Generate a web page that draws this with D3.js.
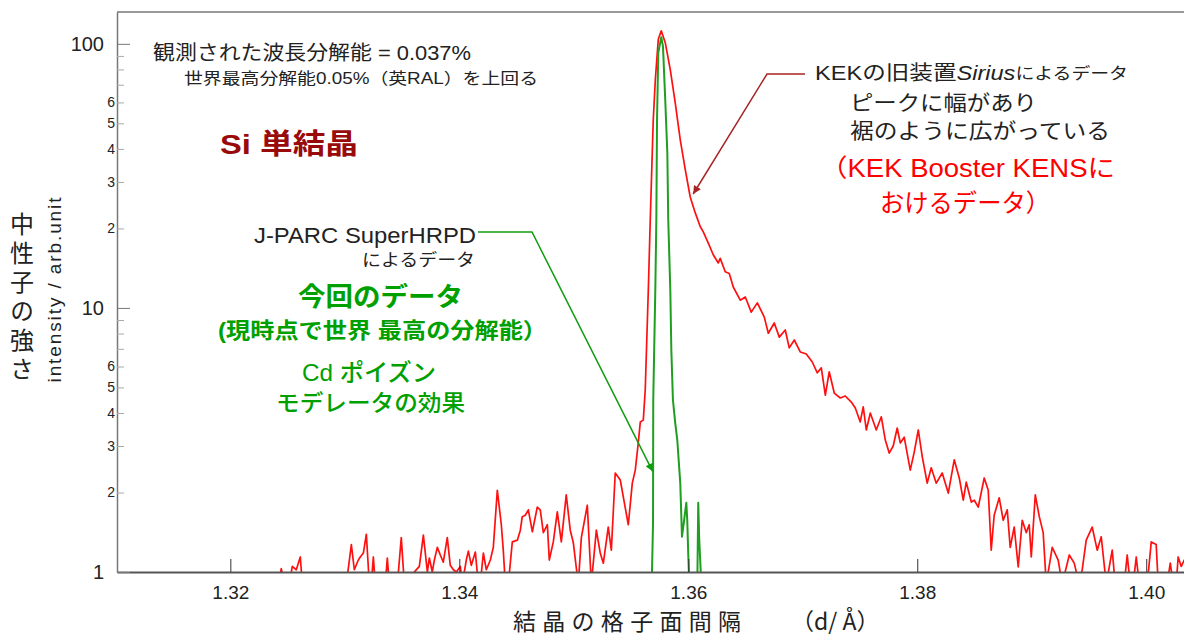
<!DOCTYPE html>
<html>
<head>
<meta charset="utf-8">
<script src="https://cdn.jsdelivr.net/npm/d3@7"></script>
<style>
  body { margin: 0; background: #fff; }
  text { font-family: "Liberation Sans", "Noto Sans CJK JP", sans-serif; }
  .jp { font-family: "Noto Sans CJK JP", "Liberation Sans", sans-serif; }
  .axis text { fill: #222; }
</style>
</head>
<body>
<script>
// KEK (Sirius) data: d-spacing / intensity. values < 1 fall under the axis
var redD = [1.32419, 1.32445, 1.32472, 1.32515, 1.32541, 1.32576, 1.32611, 1.32629,
  1.33013, 1.33057, 1.33083, 1.33118, 1.33135, 1.33162, 1.33188, 1.33214, 1.33231, 1.33249, 1.33266,
  1.33354, 1.33371, 1.33389, 1.33459, 1.33493, 1.33520, 1.33616, 1.33651, 1.33686, 1.33721, 1.33738,
  1.33764, 1.33782, 1.33808, 1.33834, 1.33860, 1.33895, 1.33921, 1.33948, 1.33974, 1.34009, 1.34026,
  1.34061, 1.34079, 1.34105, 1.34140, 1.34166, 1.34183, 1.34210, 1.34236, 1.34271, 1.34297, 1.34332,
  1.34367, 1.34384, 1.34402, 1.34428, 1.34463, 1.34507, 1.34533, 1.34550, 1.34576, 1.34603, 1.34638,
  1.34681, 1.34707, 1.34734, 1.34769, 1.34786, 1.34821, 1.34856, 1.34891, 1.34934, 1.34969, 1.34996,
  1.35039, 1.35066, 1.35118, 1.35153, 1.35197, 1.35231, 1.35258, 1.35301, 1.35328, 1.35362, 1.35406,
  1.35476, 1.35511, 1.35537, 1.35563, 1.35581, 1.35607, 1.35624, 1.35642, 1.35651, 1.35668, 1.35694,
  1.35712, 1.35738, 1.35764, 1.35799, 1.35843, 1.35886, 1.35930, 1.35974, 1.36017, 1.36061, 1.36105,
  1.36131, 1.36175, 1.36218, 1.36262, 1.36279, 1.36323, 1.36358, 1.36393, 1.36454, 1.36498, 1.36550,
  1.36603, 1.36664, 1.36699, 1.36751, 1.36795, 1.36847, 1.36882, 1.36926, 1.36978, 1.37031, 1.37083,
  1.37127, 1.37162, 1.37197, 1.37231, 1.37275, 1.37328, 1.37371, 1.37424, 1.37459, 1.37502, 1.37528,
  1.37555, 1.37590, 1.37642, 1.37686, 1.37721, 1.37755, 1.37790, 1.37825, 1.37852, 1.37886, 1.37939,
  1.37974, 1.38009, 1.38044, 1.38087, 1.38122, 1.38166, 1.38218, 1.38271, 1.38323, 1.38367, 1.38402,
  1.38428, 1.38472, 1.38498, 1.38533, 1.38585, 1.38620, 1.38646, 1.38672, 1.38716, 1.38751, 1.38786,
  1.38812, 1.38847, 1.38882, 1.38917, 1.38952, 1.38978, 1.38996, 1.39031, 1.39066, 1.39100, 1.39127,
  1.39179, 1.39231, 1.39266, 1.39328, 1.39371, 1.39415, 1.39441, 1.39476, 1.39528, 1.39572, 1.39607,
  1.39651, 1.39703, 1.39729, 1.39808, 1.39834, 1.39860, 1.39886, 1.39913, 1.39939, 1.40009, 1.40044,
  1.40087, 1.40105, 1.40183, 1.40210, 1.40236, 1.40262, 1.40279, 1.40306, 1.40332, 1.40370];
var redI = [0.9, 1.03, 0.9, 0.9, 1.05, 1.02, 1.14, 0.9,
  0.9, 1.27, 1.02, 1.11, 1.14, 1.18, 1.39, 0.9, 0.9, 1.14, 0.9,
  0.9, 1.13, 0.9, 0.9, 1.35, 0.9, 1.01, 1.05, 1.38, 1.00, 1.13,
  1.00, 1.11, 1.24, 1.16, 1.09, 1.35, 1.06, 1.02, 1.00, 1.05, 0.9,
  1.11, 1.20, 1.06, 1.19, 0.9, 0.9, 1.18, 1.02, 1.11, 1.24, 2.04,
  1.51, 1.21, 0.9, 0.9, 1.30, 1.32, 1.44, 1.62, 1.64, 1.72, 1.42,
  1.76, 1.72, 1.41, 1.51, 1.11, 1.30, 1.69, 1.30, 1.96, 1.44, 1.29,
  0.9, 1.35, 1.79, 0.9, 1.44, 1.18, 1.08, 1.48, 1.21, 2.37, 2.23,
  1.51, 2.17, 2.43, 3.08, 3.70, 3.76, 4.89, 8.77, 11.7, 21.6, 51.5,
  73.0, 104, 112, 101, 79.7, 59.8, 43.3, 33.3, 26.3, 22.9, 20.3,
  19.4, 17.6, 15.9, 14.8, 15.4, 13.7, 13.5, 12.0, 10.7, 11.0, 9.64,
  10.45, 9.23, 8.02, 8.77, 7.75, 8.25, 7.06, 7.56, 6.81, 6.69, 6.24,
  5.68, 5.93, 4.67, 5.73, 4.76, 4.56, 4.64, 4.40, 4.18, 3.70, 4.22,
  3.45, 4.00, 3.45, 3.87, 3.16, 2.82, 3.00, 3.51, 3.08, 3.24, 2.43,
  2.85, 3.45, 2.73, 2.17, 2.48, 2.17, 2.37, 1.99, 2.66, 2.27, 1.87,
  2.19, 1.84, 1.87, 1.76, 2.27, 2.04, 1.21, 1.64, 1.91, 1.57, 1.72,
  1.24, 1.48, 1.045, 1.57, 1.41, 1.51, 1.14, 1.96, 1.62, 1.41, 0.9,
  1.24, 1.11, 0.9, 1.16, 1.08, 0.9, 1.02, 1.32, 1.48, 1.21, 1.36,
  0.9, 1.21, 0.9, 0.9, 1.16, 0.9, 0.9, 1.14, 0.9, 0.9, 1.30,
  1.27, 0.9, 0.9, 1.08, 0.9, 0.9, 1.14, 1.05, 1.11, 1.06];

// J-PARC SuperHRPD data
var greenD = [1.35660, 1.35683, 1.35692, 1.35694, 1.35712, 1.35721, 1.35727, 1.35738, 1.35764,
  1.35779, 1.35799, 1.35817, 1.35825, 1.35843, 1.35852, 1.35866, 1.35886, 1.35904, 1.35930,
  1.35945, 1.35956, 1.35983, 1.35991, 1.36000, 1.36009, 1.36079, 1.36087, 1.36096, 1.36114];
var greenI = [0.9, 1.00, 1.53, 4.48, 11.7, 21.6, 51.5, 92.4, 106,
  97.8, 61.0, 38.6, 21.6, 11.7, 6.93, 4.48, 3.67, 3.16, 2.17,
  1.36, 1.48, 1.83, 1.57, 1.16, 0.9, 0.9, 1.83, 1.32, 0.9];

var xTicks = [1.32, 1.34, 1.36, 1.38, 1.40];
var yTicks = [1, 2, 3, 4, 5, 6, 7, 8, 9, 10, 20, 30, 40, 50, 60, 70, 80, 90, 100];
var yTickLabels = ["1", "2", "3", "4", "5", "6", "", "", "", "10", "2", "3", "4", "5", "6", "", "", "", "100"];
var yMajor = [1, 10, 100];

var margin = {top: 12, right: 0, bottom: 67, left: 117},
    width = 1184 - margin.left - margin.right,
    height = 639 - margin.top - margin.bottom;

var x = d3.scaleLinear().domain([1.3101, 1.4033]).range([0, width]);
var y = d3.scaleLog().domain([1, 132]).range([height, 0]);

var line = d3.line()
    .x(function(d) { return x(d[0]); })
    .y(function(d) { return y(d[1]); });

var svgRoot = d3.select("body").append("svg")
    .attr("width", 1184)
    .attr("height", 639);

var defs = svgRoot.append("defs");
defs.append("clipPath").attr("id", "plotclip")
  .append("rect").attr("x", 0).attr("y", 0).attr("width", width).attr("height", height);

function addArrow(id, color) {
    defs.append("marker")
        .attr("id", id)
        .attr("viewBox", "0 0 10 10")
        .attr("refX", 10).attr("refY", 5)
        .attr("markerWidth", 10).attr("markerHeight", 8)
        .attr("markerUnits", "userSpaceOnUse")
        .attr("orient", "auto")
      .append("path")
        .attr("d", "M0,0 L10,5 L0,10 z")
        .style("fill", color);
}

var svg = svgRoot.append("g")
    .attr("transform", "translate(" + margin.left + "," + margin.top + ")");

// frame top line
svg.append("line")
    .attr("x1", 0).attr("x2", width + 5)
    .attr("y1", 0).attr("y2", 0)
    .style("stroke", "#777").style("stroke-width", 1.3);

// curves
var curves = svg.append("g").attr("clip-path", "url(#plotclip)");

curves.append("path")
    .datum(d3.zip(redD, redI))
    .attr("d", line)
    .style("fill", "none")
    .style("stroke", "#ff1010")
    .style("stroke-width", 1.7)
    .style("stroke-linejoin", "round");

curves.append("path")
    .datum(d3.zip(greenD, greenI))
    .attr("d", line)
    .style("fill", "none")
    .style("stroke", "#1f9e1f")
    .style("stroke-width", 2)
    .style("stroke-linejoin", "round");

// X axis
var gx = svg.append("g")
    .attr("class", "axis")
    .attr("transform", "translate(0," + height + ")")
    .call(d3.axisBottom(x).tickValues(xTicks).tickSize(-13).tickSizeOuter(0)
        .tickPadding(14).tickFormat(d3.format(".2f")));
gx.select(".domain").style("stroke", "#555").style("stroke-width", 1.8);
gx.selectAll(".tick line").style("stroke", "#333").style("stroke-width", 1);
gx.selectAll(".tick text").style("font-size", "19px");

// Y axis
var gy = svg.append("g")
    .attr("class", "axis")
    .call(d3.axisLeft(y).tickValues(yTicks).tickSize(-12).tickSizeOuter(0)
        .tickFormat(function(d, i) { return yTickLabels[i]; }));
gy.select(".domain").style("stroke", "#777").style("stroke-width", 1.5);
gy.selectAll(".tick").each(function(d) {
    var major = yMajor.indexOf(d) >= 0;
    var t = d3.select(this);
    t.select("line")
        .attr("x2", major ? 13 : 7)
        .style("stroke", major ? "#777" : "#aaa");
    t.select("text")
        .attr("x", major ? -13 : -2)
        .style("font-size", major ? "20px" : "14px");
});

// axis titles
svgRoot.append("text")
    .attr("class", "jp")
    .attr("x", 513).attr("y", 620)
    .attr("dominant-baseline", "central")
    .attr("textLength", 228)
    .style("font-size", "23px").style("fill", "#222")
    .text("結晶の格子面間隔");
svgRoot.append("text")
    .attr("class", "jp")
    .attr("x", 791).attr("y", 620)
    .attr("dominant-baseline", "central")
    .style("font-size", "23px").style("fill", "#222")
    .text("（d/ Å）");

// vertical (upright) Japanese title
svgRoot.append("text")
    .attr("class", "jp")
    .attr("x", 22).attr("y", 212)
    .style("writing-mode", "vertical-rl")
    .style("text-orientation", "upright")
    .style("letter-spacing", "5px")
    .style("font-size", "24px").style("fill", "#222")
    .text("中性子の強さ");
svgRoot.append("text")
    .attr("transform", "translate(54,290) rotate(-90)")
    .attr("text-anchor", "middle")
    .attr("dominant-baseline", "central")
    .attr("textLength", 185)
    .style("font-size", "19px").style("fill", "#222")
    .text("intensity / arb.unit");

// annotations
var green = "#00a000";
var notes = [
    {t: "観測された波長分解能 = 0.037%", x: 153, y: 53, s: 20, w: 318, c: "#222", b: 400},
    {t: "世界最高分解能0.05%（英RAL）を上回る", x: 184, y: 78, s: 16, w: 354, c: "#222", b: 400},
    {t: "Si 単結晶", x: 220, y: 144, s: 28, w: 138, c: "#990a0a", b: 700},
    {t: "J-PARC SuperHRPD", x: 254, y: 235, s: 22, w: 222, c: "#222", b: 400},
    {t: "によるデータ", x: 362, y: 260, s: 17, w: 113, c: "#222", b: 400},
    {t: "今回のデータ", x: 298, y: 297, s: 26, w: 165, c: green, b: 700},
    {t: "(現時点で世界 最高の分解能）", x: 218, y: 330, s: 22, w: 329, c: green, b: 700},
    {t: "Cd ポイズン", x: 302, y: 372, s: 24, w: 134, c: green, b: 500},
    {t: "モデレータの効果", x: 276, y: 403, s: 23, w: 189, c: green, b: 500},
    {t: "ピークに幅があり", x: 850, y: 102, s: 21, w: 187, c: "#222", b: 400},
    {t: "裾のように広がっている", x: 850, y: 130, s: 21, w: 260, c: "#222", b: 400},
    {t: "（KEK Booster KENSに", x: 820, y: 168, s: 25, w: 295, c: "#ff0000", b: 400},
    {t: "おけるデータ）", x: 880, y: 203, s: 25, w: 170, c: "#ff0000", b: 400}
];
notes.forEach(function(n) {
    svgRoot.append("text")
        .attr("x", n.x).attr("y", n.y)
        .attr("dominant-baseline", "central")
        .attr("textLength", n.w)
        .attr("lengthAdjust", "spacingAndGlyphs")
        .style("font-size", n.s + "px")
        .style("font-weight", n.b)
        .style("fill", n.c)
        .text(n.t);
});

var kek = svgRoot.append("text")
    .attr("x", 815).attr("y", 73)
    .attr("dominant-baseline", "central")
    .attr("textLength", 313)
    .attr("lengthAdjust", "spacingAndGlyphs")
    .style("font-size", "20px").style("fill", "#222");
kek.append("tspan").text("KEKの旧装置");
kek.append("tspan").style("font-style", "italic").text("Sirius");
kek.append("tspan").style("font-size", "16px").text("によるデータ");

// leader lines with arrows pointing at the curves
addArrow("arrowGreen", "#109c10");
addArrow("arrowRed", "#a82424");

var gTip = [margin.left + x(1.3569), margin.top + y(2.4)];
svgRoot.append("polyline")
    .attr("points", [[478, 232], [532, 232], gTip].join(" "))
    .style("fill", "none").style("stroke", "#109c10").style("stroke-width", 1.5)
    .attr("marker-end", "url(#arrowGreen)");

var rTip = [margin.left + x(1.36043), margin.top + y(27)];
svgRoot.append("polyline")
    .attr("points", [[805, 74], [767, 74], rTip].join(" "))
    .style("fill", "none").style("stroke", "#a82424").style("stroke-width", 1.5)
    .attr("marker-end", "url(#arrowRed)");
</script>
</body>
</html>
